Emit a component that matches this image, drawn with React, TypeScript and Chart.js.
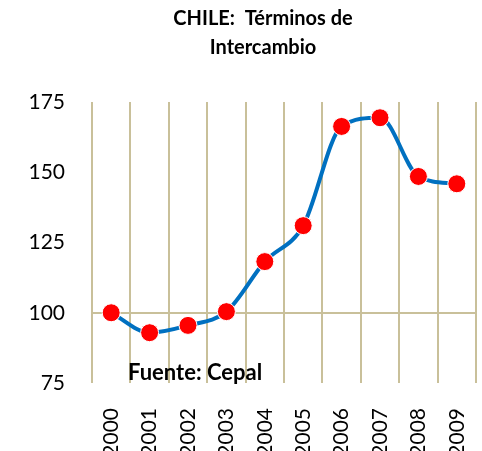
import React, { useEffect, useRef } from "react";
import { Chart, registerables } from "chart.js";

Chart.register(...registerables);

const years = ["2000", "2001", "2002", "2003", "2004", "2005", "2006", "2007", "2008", "2009"];
const termsOfTrade = [100, 92.9, 95.5, 100.4, 118.2, 131, 166.3, 169.4, 148.5, 145.9];
const yTicks = [75, 100, 125, 150, 175];
const titleLines = ["CHILE:  Términos de", "Intercambio"];
const sourceNote = "Fuente: Cepal";

const FONT = "Lato, 'Open Sans', sans-serif";
const GRID = "#C9C09A";

export default function App() {
  const ref = useRef<HTMLCanvasElement | null>(null);
  useEffect(() => {
    if (!ref.current) return;
    const textPlugin = {
      id: "texts",
      afterDraw(chart: any) {
        const c = chart.ctx;
        c.save();
        c.fillStyle = "#000";
        c.textAlign = "center";
        c.textBaseline = "middle";
        c.font = `bold 20px ${FONT}`;
        c.fillText(titleLines[0], 263, 19);
        c.fillText(titleLines[1], 263, 48);
        c.textAlign = "left";
        c.textBaseline = "alphabetic";
        c.font = `bold 22px ${FONT}`;
        c.fillText(sourceNote, 128, 380);
        c.restore();
      },
    };
    const chart = new Chart(ref.current, {
      type: "line",
      data: {
        labels: years,
        datasets: [
          {
            data: termsOfTrade,
            borderColor: "#0070C0",
            borderWidth: 4,
            tension: 0.4,
            cubicInterpolationMode: "monotone",
            pointRadius: 9,
            pointHoverRadius: 9,
            pointBackgroundColor: "#FF0000",
            pointBorderColor: "#FFFFFF",
            pointBorderWidth: 1,
          },
        ],
      },
      plugins: [textPlugin],
      options: {
        animation: false,
        responsive: false,
        events: [],
        layout: { autoPadding: false, padding: { top: 102, right: 6, left: 0, bottom: 0 } },
        plugins: { legend: { display: false }, tooltip: { enabled: false }, title: { display: false } },
        scales: {
          x: {
            type: "category",
            offset: true,
            grid: {
              offset: true,
              color: GRID,
              lineWidth: 2,
              drawTicks: true,
              tickLength: 25,
              tickColor: "rgba(0,0,0,0)",
            },
            border: { display: false },
            ticks: {
              minRotation: 90,
              maxRotation: 90,
              padding: 0,
              color: "#000",
              font: { family: FONT, size: 21, lineHeight: 0.5 },
            },
            afterFit: (s: any) => {
              s.height = 68;
            },
          },
          y: {
            min: 75,
            max: 175,
            afterBuildTicks: (s: any) => {
              s.ticks = yTicks.map((v) => ({ value: v }));
            },
            grid: {
              drawTicks: false,
              lineWidth: 2,
              color: (ctx: any) => (ctx.tick && ctx.tick.value === 100 ? GRID : "rgba(0,0,0,0)"),
            },
            border: { display: false },
            ticks: {
              padding: 27,
              color: "#000",
              font: { family: FONT, size: 21 },
            },
            afterFit: (s: any) => {
              s.width = 92;
            },
          },
        },
      },
    } as any);
    return () => chart.destroy();
  }, []);
  return (
    <div style={{ position: "fixed", left: 0, top: 0, width: 482, height: 451, background: "#fff" }}>
      <canvas ref={ref} width={482} height={451} style={{ width: 482, height: 451 }} />
    </div>
  );
}
